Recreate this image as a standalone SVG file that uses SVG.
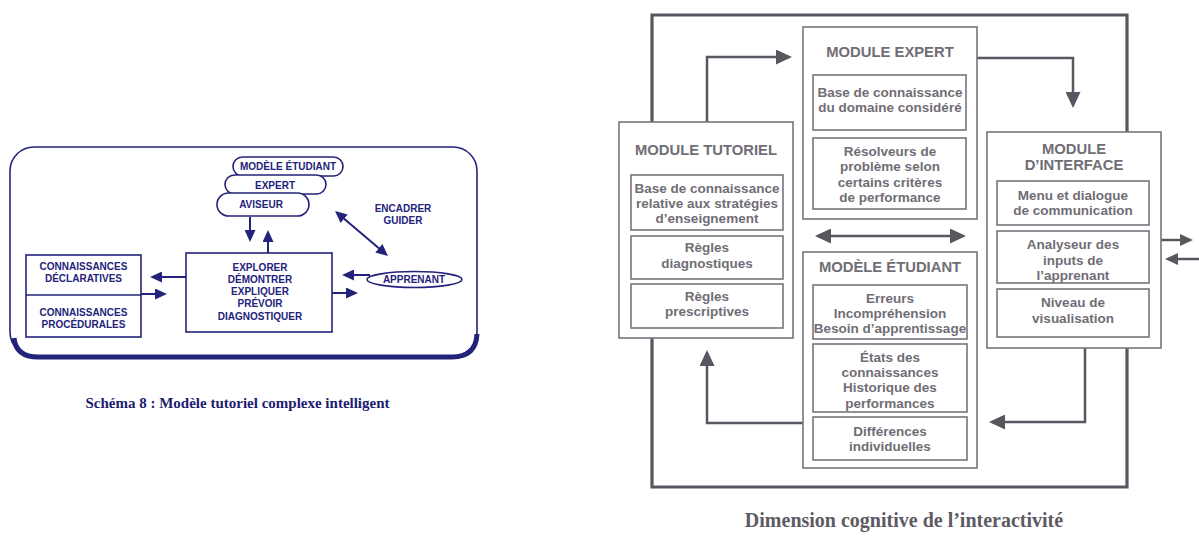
<svg xmlns="http://www.w3.org/2000/svg" width="1199" height="536" viewBox="0 0 1199 536">
  <style>
    .nv { fill: none; stroke: #23237a; stroke-width: 1.6; }
    .nvf { fill: #fff; stroke: #23237a; stroke-width: 1.6; }
    .nvl { fill: none; stroke: #23237a; stroke-width: 2; }
    .lt { font-family: "Liberation Sans", Arial, sans-serif; font-weight: bold; font-size: 10px; fill: #23237a; text-anchor: middle; }
    .lcap { font-family: "Liberation Serif", "Times New Roman", serif; font-weight: bold; font-size: 15px; fill: #1c1c70; text-anchor: middle; }
    .gbox { fill: #fff; stroke: #78747d; stroke-width: 1.6; }
    .gt { font-family: "Liberation Sans", Arial, sans-serif; font-weight: bold; font-size: 13.5px; fill: #716d76; text-anchor: middle; }
    .gtt { font-size: 14.8px; }
    .gl { fill: none; stroke: #5a5660; stroke-width: 2.5; }
    .frame { fill: none; stroke: #5a5660; stroke-width: 3.2; }
    .rcap { font-family: "Liberation Serif", "Times New Roman", serif; font-weight: bold; font-size: 20px; fill: #5e5a63; text-anchor: middle; }
  </style>
  <defs>
    <marker id="ga" markerUnits="userSpaceOnUse" markerWidth="16" markerHeight="15" refX="13" refY="7.5" orient="auto-start-reverse">
      <path d="M0,0 L16,7.5 L0,15 z" fill="#5a5660"/>
    </marker>
    <marker id="gs" markerUnits="userSpaceOnUse" markerWidth="13" markerHeight="12" refX="10" refY="6" orient="auto-start-reverse">
      <path d="M0,0 L13,6 L0,12 z" fill="#5a5660"/>
    </marker>
    <marker id="na" markerUnits="userSpaceOnUse" markerWidth="12" markerHeight="11" refX="9" refY="5.5" orient="auto-start-reverse">
      <path d="M0,0 L12,5.5 L0,11 z" fill="#23237a"/>
    </marker>
  </defs>

  <!-- Left: complex intelligent tutorial model -->
  <g id="left-frame">
    <rect x="10" y="147" width="467" height="209" rx="24" class="nv" stroke-width="2.4"/>
    <path d="M14,338 Q16,357 38,357 H452 Q476,357 477,334" fill="none" stroke="#23237a" stroke-width="5"/>
  </g>

  <g id="left-connectors">
    <path class="nvl" d="M250,217 V239" marker-end="url(#na)"/>
    <path class="nvl" d="M268,253 V233" marker-end="url(#na)"/>
    <path class="nvl" d="M337.3,212.9 L385.7,254.1" marker-start="url(#na)" marker-end="url(#na)"/>
    <path class="nvl" d="M370,275 H345" marker-end="url(#na)"/>
    <path class="nvl" d="M332,293 H355" marker-end="url(#na)"/>
    <path class="nvl" d="M186,277 H153" marker-end="url(#na)"/>
    <path class="nvl" d="M141,294 H164" marker-end="url(#na)"/>
  </g>

  <g id="pill-modele">
    <rect x="233" y="157" width="110" height="19" rx="9.5" class="nvf"/>
    <text x="288" y="170" class="lt">MODÈLE ÉTUDIANT</text>
  </g>
  <g id="pill-expert">
    <rect x="225" y="175" width="101" height="19" rx="9.5" class="nvf"/>
    <text x="275" y="188.5" class="lt">EXPERT</text>
  </g>
  <g id="pill-aviseur">
    <rect x="217" y="193" width="92" height="23" rx="11.5" class="nvf"/>
    <text x="261" y="207.5" class="lt">AVISEUR</text>
  </g>

  <g id="encadrer">
    <text x="403" y="212" class="lt">ENCADRER</text>
    <text x="403" y="224" class="lt">GUIDER</text>
  </g>

  <g id="apprenant">
    <ellipse cx="414.5" cy="279.5" rx="47.5" ry="8" class="nvf"/>
    <text x="414" y="283" class="lt">APPRENANT</text>
  </g>

  <g id="actions">
    <rect x="186" y="253" width="146" height="79" class="nvf"/>
    <text x="260" y="271" class="lt" font-size="11">EXPLORER</text>
    <text x="260" y="283" class="lt" font-size="11">DÉMONTRER</text>
    <text x="260" y="295" class="lt" font-size="11">EXPLIQUER</text>
    <text x="260" y="307" class="lt" font-size="11">PRÉVOIR</text>
    <text x="260" y="319.5" class="lt" font-size="11">DIAGNOSTIQUER</text>
  </g>

  <g id="connaissances">
    <rect x="26" y="255" width="115" height="82" class="nvf"/>
    <line x1="26" y1="295" x2="141" y2="295" class="nv"/>
    <text x="83.5" y="270" class="lt">CONNAISSANCES</text>
    <text x="83.5" y="282" class="lt">DÉCLARATIVES</text>
    <text x="83.5" y="316" class="lt">CONNAISSANCES</text>
    <text x="83.5" y="328" class="lt">PROCÉDURALES</text>
  </g>

  <text x="237.5" y="408" class="lcap">Schéma 8 : Modèle tutoriel complexe intelligent</text>

  <!-- Right: cognitive dimension of interactivity -->
  <g id="right-connectors">
    <path class="frame" d="M652,122 V15 H1127 V132"/>
    <path class="frame" d="M1127,348 V487 H652 V338"/>
    <path class="gl" d="M707,122 V57 H789" marker-end="url(#ga)"/>
    <path class="gl" d="M977,58 H1073 V105" marker-end="url(#ga)"/>
    <path class="gl" d="M1085,348 V422 H992" marker-end="url(#ga)"/>
    <path class="gl" d="M803,423 H707 V353" marker-end="url(#ga)"/>
    <path class="gl" d="M818,236 H963" marker-start="url(#ga)" marker-end="url(#ga)"/>
    <path class="gl" d="M1161,240 H1190" stroke-width="2" marker-end="url(#gs)"/>
    <path class="gl" d="M1199,259 H1168" stroke-width="2" marker-end="url(#gs)"/>
  </g>

  <g id="module-tutoriel">
    <rect x="619" y="122" width="174" height="216" class="gbox"/>
    <text x="706" y="155" class="gt gtt">MODULE TUTORIEL</text>
    <rect x="631" y="175" width="152" height="55" class="gbox"/>
    <text x="707" y="193" class="gt">Base de connaissance</text>
    <text x="707" y="208" class="gt">relative aux stratégies</text>
    <text x="707" y="223" class="gt">d’enseignement</text>
    <rect x="631" y="236" width="152" height="43" class="gbox"/>
    <text x="707" y="252" class="gt">Règles</text>
    <text x="707" y="268" class="gt">diagnostiques</text>
    <rect x="631" y="284" width="152" height="44" class="gbox"/>
    <text x="707" y="301" class="gt">Règles</text>
    <text x="707" y="316" class="gt">prescriptives</text>
  </g>

  <g id="module-expert">
    <rect x="803" y="27" width="174" height="192" class="gbox"/>
    <text x="890" y="57" class="gt gtt">MODULE EXPERT</text>
    <rect x="813" y="75" width="153" height="55" class="gbox"/>
    <text x="890" y="97" class="gt">Base de connaissance</text>
    <text x="890" y="112" class="gt">du domaine considéré</text>
    <rect x="813" y="138" width="153" height="71" class="gbox"/>
    <text x="890" y="156" class="gt">Résolveurs de</text>
    <text x="890" y="171" class="gt">problème selon</text>
    <text x="890" y="186.5" class="gt">certains critères</text>
    <text x="890" y="201.5" class="gt">de performance</text>
  </g>

  <g id="modele-etudiant">
    <rect x="803" y="252" width="174" height="216" class="gbox"/>
    <text x="890" y="271.5" class="gt gtt">MODÈLE ÉTUDIANT</text>
    <rect x="813" y="285" width="154" height="54" class="gbox"/>
    <text x="890" y="303" class="gt">Erreurs</text>
    <text x="890" y="318" class="gt">Incompréhension</text>
    <text x="890" y="333" class="gt">Besoin d’apprentissage</text>
    <rect x="813" y="344" width="154" height="68" class="gbox"/>
    <text x="890" y="362" class="gt">États des</text>
    <text x="890" y="377" class="gt">connaissances</text>
    <text x="890" y="392" class="gt">Historique des</text>
    <text x="890" y="407.5" class="gt">performances</text>
    <rect x="813" y="417" width="154" height="43" class="gbox"/>
    <text x="890" y="435.5" class="gt">Différences</text>
    <text x="890" y="451" class="gt">individuelles</text>
  </g>

  <g id="module-interface">
    <rect x="987" y="132" width="174" height="216" class="gbox"/>
    <text x="1074" y="153.5" class="gt gtt">MODULE</text>
    <text x="1074" y="169.5" class="gt gtt">D’INTERFACE</text>
    <rect x="997" y="181" width="152" height="44" class="gbox"/>
    <text x="1073" y="199.5" class="gt">Menu et dialogue</text>
    <text x="1073" y="214.5" class="gt">de communication</text>
    <rect x="997" y="231" width="152" height="52" class="gbox"/>
    <text x="1073" y="249" class="gt">Analyseur des</text>
    <text x="1073" y="264.5" class="gt">inputs de</text>
    <text x="1073" y="279.5" class="gt">l’apprenant</text>
    <rect x="997" y="289" width="152" height="48" class="gbox"/>
    <text x="1073" y="307" class="gt">Niveau de</text>
    <text x="1073" y="323" class="gt">visualisation</text>
  </g>

  <text x="904" y="527" class="rcap">Dimension cognitive de l’interactivité</text>
</svg>
